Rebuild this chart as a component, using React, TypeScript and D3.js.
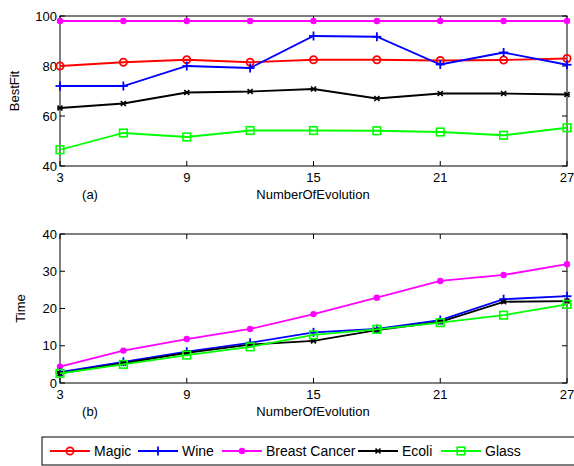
import React from "react";
import * as d3 from "d3";

const evolutions = [3, 6, 9, 12, 15, 18, 21, 24, 27];
const xTicks = [3, 9, 15, 21, 27];

const fitMagic = [80, 81.5, 82.5, 81.5, 82.5, 82.5, 82.2, 82.4, 83];
const fitWine = [72, 72, 80, 79.2, 92, 91.7, 80.6, 85.4, 80.5];
const fitBreast = [98, 98, 98, 98, 98, 98, 98, 98, 98];
const fitEcoli = [63.2, 65, 69.4, 69.8, 70.8, 67, 69, 69, 68.6];
const fitGlass = [46.5, 53.2, 51.6, 54.2, 54.2, 54.1, 53.6, 52.3, 55.3];
const fitTicks = [40, 60, 80, 100];

const timeWine = [2.9, 5.7, 8.4, 10.8, 13.6, 14.5, 16.9, 22.5, 23.3];
const timeBreast = [4.4, 8.7, 11.8, 14.5, 18.5, 22.9, 27.4, 29, 31.9];
const timeEcoli = [2.6, 5.3, 8.1, 10.3, 11.3, 14.2, 16.4, 21.8, 22];
const timeGlass = [2.6, 5.0, 7.5, 9.7, 12.9, 14.4, 16.2, 18.2, 21.1];
const timeTicks = [0, 10, 20, 30, 40];

const seriesNames = ["Magic", "Wine", "Breast Cancer", "Ecoli", "Glass"];
const seriesColors = ["#ff0000", "#0000ff", "#ff00ff", "#000000", "#00ff00"];
const markerKinds = ["circle", "plus", "dot", "star", "square"];

const FONT = "Liberation Sans, Arial, sans-serif";

function Marker({ kind, x, y, color }: { kind: string; x: number; y: number; color: string }) {
  if (kind === "circle")
    return <circle cx={x} cy={y} r={3.6} fill="none" stroke={color} strokeWidth={1.8} />;
  if (kind === "plus")
    return (
      <g stroke={color} strokeWidth={1.8}>
        <line x1={x - 4.5} x2={x + 4.5} y1={y} y2={y} />
        <line x1={x} x2={x} y1={y - 4.5} y2={y + 4.5} />
      </g>
    );
  if (kind === "dot") return <circle cx={x} cy={y} r={3.2} fill={color} />;
  if (kind === "star")
    return (
      <g stroke={color} strokeWidth={1.6}>
        <line x1={x - 2.5} x2={x + 2.5} y1={y - 2.5} y2={y + 2.5} />
        <line x1={x - 2.5} x2={x + 2.5} y1={y + 2.5} y2={y - 2.5} />
        <line x1={x - 3} x2={x + 3} y1={y} y2={y} />
      </g>
    );
  return <rect x={x - 3.8} y={y - 3.8} width={7.6} height={7.6} fill="none" stroke={color} strokeWidth={1.6} />;
}

function Panel({
  top, bottom, domain, yTicks, series, yLabel, yLabelX, tag,
}: {
  top: number; bottom: number; domain: [number, number]; yTicks: number[];
  series: { idx: number; values: number[] }[]; yLabel: string; yLabelX: number; tag: string;
}) {
  const x = d3.scaleLinear().domain([3, 27]).range([60, 567]);
  const y = d3.scaleLinear().domain(domain).range([bottom, top]);
  const line = d3.line<number>().x((_, i) => x(evolutions[i])).y((d) => y(d));
  const left = x.range()[0], right = x.range()[1];
  return (
    <g>
      <rect x={left} y={top} width={right - left} height={bottom - top} fill="white" stroke="black" strokeWidth={1} />
      {xTicks.map((t) => (
        <g key={"x" + t}>
          <line x1={x(t)} x2={x(t)} y1={bottom} y2={bottom - 5} stroke="black" />
          <line x1={x(t)} x2={x(t)} y1={top} y2={top + 5} stroke="black" />
          <text x={x(t)} y={bottom + 16} textAnchor="middle" fontSize={13} fontFamily={FONT}>{t}</text>
        </g>
      ))}
      {yTicks.map((t) => (
        <g key={"y" + t}>
          <line x1={left} x2={left + 5} y1={y(t)} y2={y(t)} stroke="black" />
          <line x1={right} x2={right - 5} y1={y(t)} y2={y(t)} stroke="black" />
          <text x={left - 3} y={y(t)} dy="0.36em" textAnchor="end" fontSize={13} fontFamily={FONT}>{t}</text>
        </g>
      ))}
      {series.map((s) => (
        <g key={s.idx}>
          <path d={line(s.values) || ""} fill="none" stroke={seriesColors[s.idx]} strokeWidth={1.8} />
          {s.values.map((v, i) => (
            <Marker key={i} kind={markerKinds[s.idx]} x={x(evolutions[i])} y={y(v)} color={seriesColors[s.idx]} />
          ))}
        </g>
      ))}
      <text transform={`translate(${yLabelX},${(top + bottom) / 2}) rotate(-90)`} textAnchor="middle" fontSize={13} fontFamily={FONT}>{yLabel}</text>
      <text x={313} y={bottom + 33} textAnchor="middle" fontSize={13} fontFamily={FONT}>NumberOfEvolution</text>
      <text x={90} y={bottom + 33} textAnchor="middle" fontSize={13} fontFamily={FONT}>{tag}</text>
    </g>
  );
}

export default function App() {
  const legendX = [50, 138, 222, 358, 441];
  return (
    <svg width={574} height={466} style={{ position: "absolute", left: 0, top: 0, background: "white" }}>
      <rect width={574} height={466} fill="white" />
      <Panel
        top={16} bottom={166} domain={[40, 100]} yTicks={fitTicks} yLabel="BestFit" yLabelX={19} tag="(a)"
        series={[
          { idx: 0, values: fitMagic },
          { idx: 1, values: fitWine },
          { idx: 2, values: fitBreast },
          { idx: 3, values: fitEcoli },
          { idx: 4, values: fitGlass },
        ]}
      />
      <Panel
        top={234} bottom={383} domain={[0, 40]} yTicks={timeTicks} yLabel="Time" yLabelX={25} tag="(b)"
        series={[
          { idx: 2, values: timeBreast },
          { idx: 1, values: timeWine },
          { idx: 3, values: timeEcoli },
          { idx: 4, values: timeGlass },
        ]}
      />
      <rect x={42} y={437} width={540} height={28} fill="white" stroke="black" strokeWidth={1} />
      {seriesNames.map((n, i) => (
        <g key={n}>
          <line x1={legendX[i]} x2={legendX[i] + 40} y1={451} y2={451} stroke={seriesColors[i]} strokeWidth={1.8} />
          <Marker kind={markerKinds[i]} x={legendX[i] + 20} y={451} color={seriesColors[i]} />
          <text x={legendX[i] + 44} y={451} dy="0.36em" fontSize={14} fontFamily={FONT}>{n}</text>
        </g>
      ))}
    </svg>
  );
}
